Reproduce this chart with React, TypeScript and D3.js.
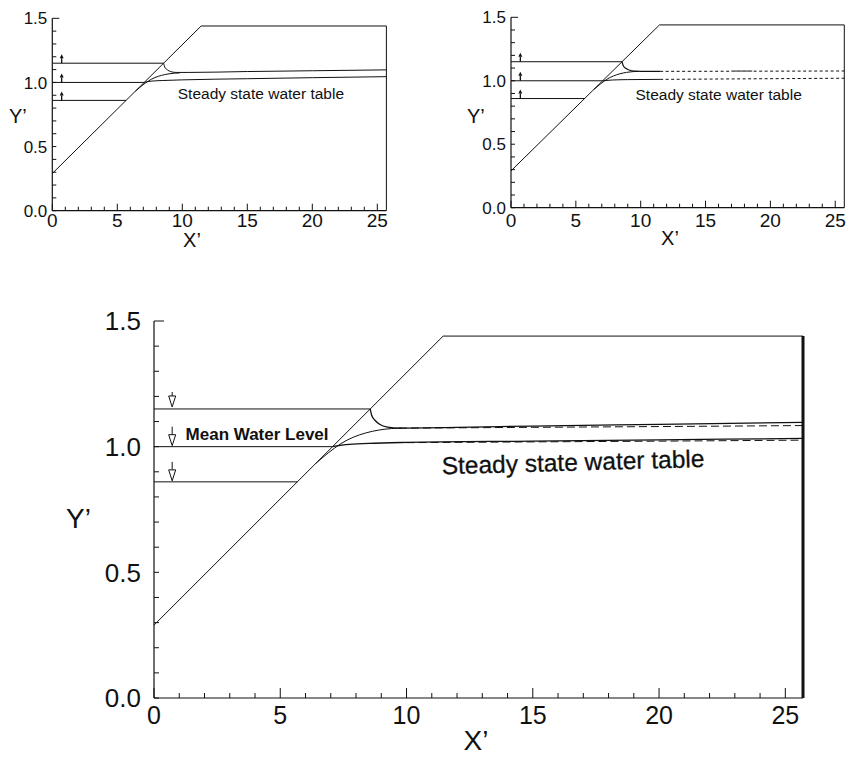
import React from 'react';
import * as d3 from 'd3';

type Pt = [number, number];

// axis ranges
const xMax = 25.7;
const yMax = 1.5;
const xTickLabels = [0, 5, 10, 15, 20, 25];
const yTickLabels = [0.0, 0.5, 1.0, 1.5];

// beach profile (slope + crest)
const beach: Pt[] = [[0, 0.29], [11.45, 1.44], [25.7, 1.44]];

// still water levels: high, mean, low, and where each meets the slope
const levels = [1.15, 1.0, 0.86];
const levelEnds = [8.56, 7.07, 5.68];

// runup envelope, shared by all panels
const runup: Pt[] = [[6.4, 0.933], [6.9, 0.975], [7.4, 1.012], [7.9, 1.038], [8.4, 1.055], [8.9, 1.066], [9.4, 1.072], [9.8, 1.074]];

// top-left panel
const upperTL: Pt[] = [[8.56, 1.15], [8.65, 1.12], [8.85, 1.098], [9.1, 1.085], [9.5, 1.078], [10.5, 1.078], [15, 1.085], [20, 1.091], [25.7, 1.098]];
const steadyTL: Pt[] = [[7.07, 1.0], [7.6, 1.01], [8.5, 1.015], [10, 1.02], [15, 1.029], [20, 1.037], [25.7, 1.045]];

// top-right panel
const upperTR: Pt[] = [[8.56, 1.15], [8.65, 1.12], [8.85, 1.098], [9.1, 1.085], [9.5, 1.076], [10.5, 1.074], [11.5, 1.074]];
const upperTRDotted: Pt[] = [[11.5, 1.074], [25.7, 1.077]];
const upperTRPiece: Pt[] = [[17, 1.076], [18.6, 1.076]];
const steadyTR: Pt[] = [[7.07, 1.0], [7.8, 1.006], [9, 1.009], [11.5, 1.011]];
const steadyTRDotted: Pt[] = [[11.5, 1.011], [25.7, 1.02]];

// main panel
const upperMain: Pt[] = [[8.56, 1.15], [8.62, 1.125], [8.75, 1.105], [8.95, 1.088], [9.25, 1.078], [9.7, 1.074], [12, 1.077], [15, 1.082], [20, 1.089], [25.7, 1.097]];
const upperMainDashed: Pt[] = [[9.7, 1.074], [12, 1.075], [15, 1.077], [20, 1.08], [25.7, 1.084]];
const steadyMain: Pt[] = [[7.07, 1.0], [7.6, 1.008], [8.5, 1.013], [10, 1.017], [15, 1.022], [20, 1.027], [25.7, 1.033]];
const steadyMainDashed: Pt[] = [[10, 1.016], [15, 1.019], [20, 1.022], [25.7, 1.026]];

const arrowX = 0.72;
const FONT = '"Liberation Sans", Arial, Helvetica, sans-serif';
const INK = '#111';

interface PanelCfg {
  x0: number; x1: number; yb: number; yt: number;
  yFont: number; xFont: number; titleFont: number;
  yLabelGap: number; xLabelDy: number;
  tick: number; majorTick: number;
  yTitle: [number, number]; xTitle: [number, number];
  rightWidth: number;
}

const Panel = ({ cfg, kind }: { cfg: PanelCfg; kind: 'tl' | 'tr' | 'main' }) => {
  const sx = d3.scaleLinear().domain([0, xMax]).range([cfg.x0, cfg.x1]);
  const sy = d3.scaleLinear().domain([0, yMax]).range([cfg.yb, cfg.yt]);
  const curve = d3.line<Pt>().x(d => sx(d[0])).y(d => sy(d[1])).curve(d3.curveMonotoneX);
  const straight = d3.line<Pt>().x(d => sx(d[0])).y(d => sy(d[1]));

  const xTicks = d3.range(0, 26, 1);
  const yTicks = d3.range(0, 16, 1).map(i => i / 10);
  const crestY = sy(beach[2][1]);

  const stroke = { stroke: INK, fill: 'none', strokeWidth: 1 };

  let extra: React.ReactNode = null;
  if (kind === 'tl') {
    extra = (
      <g>
        <path d={curve(upperTL) || ''} {...stroke} />
        <path d={curve(steadyTL) || ''} {...stroke} />
        <text x={sx(9.65)} y={sy(0.872)} fontFamily={FONT} fontSize={15.5} fill={INK}>Steady state water table</text>
      </g>
    );
  } else if (kind === 'tr') {
    extra = (
      <g>
        <path d={curve(upperTR) || ''} {...stroke} strokeWidth={1.2} />
        <path d={straight(upperTRDotted) || ''} {...stroke} strokeDasharray="3,2.5" />
        <path d={straight(upperTRPiece) || ''} {...stroke} strokeWidth={1.6} stroke="#777" />
        <path d={curve(steadyTR) || ''} {...stroke} />
        <path d={straight(steadyTRDotted) || ''} {...stroke} strokeDasharray="3,2.5" />
        <text x={sx(9.6)} y={sy(0.845)} fontFamily={FONT} fontSize={15.5} fill={INK}>Steady state water table</text>
      </g>
    );
  } else {
    extra = (
      <g>
        <path d={curve(upperMain) || ''} {...stroke} strokeWidth={1.3} />
        <path d={curve(upperMainDashed) || ''} {...stroke} strokeDasharray="8,4" />
        <path d={curve(steadyMain) || ''} {...stroke} strokeWidth={1.3} />
        <path d={curve(steadyMainDashed) || ''} {...stroke} strokeDasharray="8,4" />
        <text x={sx(1.25)} y={sy(1.026)} fontFamily={FONT} fontSize={17} fontWeight="bold" fill={INK}>Mean Water Level</text>
        <text x={sx(11.4)} y={sy(0.89)} fontFamily={FONT} fontSize={24.5} fill={INK} stroke={INK} strokeWidth={0.3}
          transform={`rotate(-1.6 ${sx(11.4)} ${sy(0.89)})`}>Steady state water table</text>
      </g>
    );
  }

  // level arrows
  const arrows = levels.map((lv, i) => {
    const ax = sx(arrowX);
    const ly = sy(lv);
    if (kind === 'main') {
      const tip = ly - (i === 0 ? 2 : 1);
      const stem = i === 0 ? 4 : 8;
      return (
        <g key={i}>
          <line x1={ax} x2={ax} y1={tip - 11 - stem} y2={tip - 11} stroke={INK} strokeWidth={1} />
          <path d={`M${ax - 3.5},${tip - 11}L${ax + 3.5},${tip - 11}L${ax},${tip}Z`} fill="white" stroke={INK} strokeWidth={1} />
        </g>
      );
    }
    return (
      <g key={i}>
        <line x1={ax} x2={ax} y1={ly - 5} y2={ly} stroke={INK} strokeWidth={1.3} />
        <path d={`M${ax - 2},${ly - 5}L${ax + 2},${ly - 5}L${ax},${ly - 9}Z`} fill={INK} />
      </g>
    );
  });

  return (
    <g>
      {/* axes */}
      <line x1={cfg.x0} x2={cfg.x0} y1={cfg.yb} y2={cfg.yt} stroke={INK} strokeWidth={1.2} />
      <line x1={cfg.x0} x2={cfg.x1} y1={cfg.yb} y2={cfg.yb} stroke={INK} strokeWidth={1.2} />
      <line x1={cfg.x1} x2={cfg.x1} y1={cfg.yb} y2={crestY} stroke={INK} strokeWidth={cfg.rightWidth} />
      {yTicks.map(t => (
        <line key={'y' + t} x1={cfg.x0} x2={cfg.x0 + (t === 1.5 ? cfg.majorTick : cfg.tick)} y1={sy(t)} y2={sy(t)} stroke={INK} strokeWidth={1} />
      ))}
      {xTicks.map(t => (
        <line key={'x' + t} x1={sx(t)} x2={sx(t)} y1={cfg.yb} y2={cfg.yb - (t % 5 === 0 ? cfg.majorTick : cfg.tick)} stroke={INK} strokeWidth={1} />
      ))}
      {yTickLabels.map(t => (
        <text key={'yl' + t} x={cfg.x0 - cfg.yLabelGap} y={sy(t) + cfg.yFont * 0.36} textAnchor="end"
          fontFamily={FONT} fontSize={cfg.yFont} fill={INK}>{t.toFixed(1)}</text>
      ))}
      {xTickLabels.map(t => (
        <text key={'xl' + t} x={sx(t)} y={cfg.yb + cfg.xLabelDy} textAnchor="middle"
          fontFamily={FONT} fontSize={cfg.xFont} fill={INK}>{t}</text>
      ))}
      <text x={cfg.yTitle[0]} y={cfg.yTitle[1]} fontFamily={FONT} fontSize={cfg.titleFont} fill={INK}>Y’</text>
      <text x={cfg.xTitle[0]} y={cfg.xTitle[1]} fontFamily={FONT} fontSize={cfg.titleFont} fill={INK} textAnchor="middle">X’</text>

      {/* beach and still water levels */}
      <path d={straight(beach) || ''} {...stroke} />
      {levels.map((lv, i) => (
        <path key={'lv' + i} d={straight([[0, lv], [levelEnds[i], lv]]) || ''} {...stroke} />
      ))}
      <path d={curve(runup) || ''} {...stroke} />
      {extra}
      {arrows}
    </g>
  );
};

const tlCfg: PanelCfg = {
  x0: 52.3, x1: 386.4, yb: 210.7, yt: 18.3,
  yFont: 17, xFont: 19, titleFont: 20, yLabelGap: 5, xLabelDy: 16,
  tick: 4, majorTick: 7, yTitle: [9, 123], xTitle: [192, 247], rightWidth: 1,
};
const trCfg: PanelCfg = {
  x0: 511, x1: 844.3, yb: 207.7, yt: 17.3,
  yFont: 17, xFont: 19, titleFont: 20, yLabelGap: 5, xLabelDy: 19,
  tick: 4, majorTick: 7, yTitle: [467, 123], xTitle: [670, 245], rightWidth: 1,
};
const mainCfg: PanelCfg = {
  x0: 154, x1: 803, yb: 698, yt: 321,
  yFont: 26, xFont: 25, titleFont: 28, yLabelGap: 13, xLabelDy: 26,
  tick: 5, majorTick: 10, yTitle: [66, 528], xTitle: [476, 750], rightWidth: 3,
};

export default function App() {
  return (
    <svg width={850} height={758} style={{ position: 'absolute', left: 0, top: 0, background: 'white' }}>
      <rect width={850} height={758} fill="white" />
      <Panel cfg={tlCfg} kind="tl" />
      <Panel cfg={trCfg} kind="tr" />
      <Panel cfg={mainCfg} kind="main" />
    </svg>
  );
}
